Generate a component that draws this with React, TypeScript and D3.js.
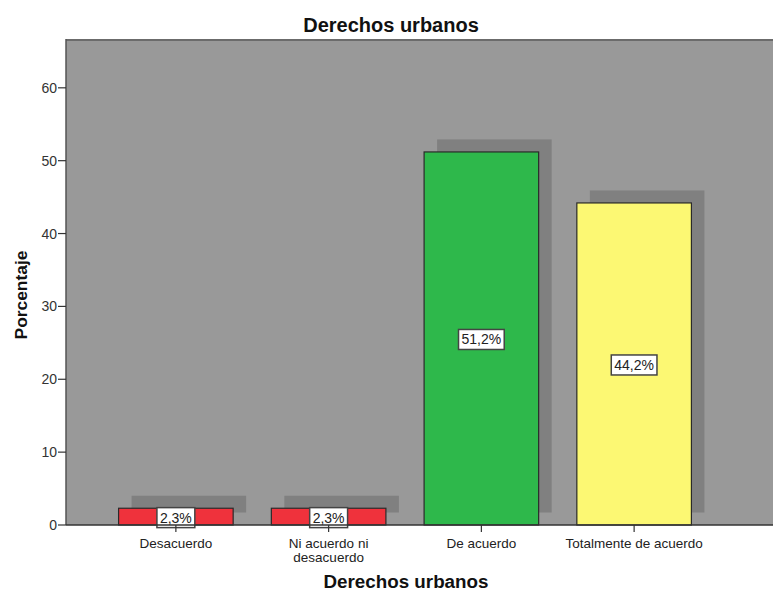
import React from "react";
import * as d3 from "d3";

const categories = ["Desacuerdo", "Ni acuerdo ni desacuerdo", "De acuerdo", "Totalmente de acuerdo"];
const categoryLines = [["Desacuerdo"], ["Ni acuerdo ni", "desacuerdo"], ["De acuerdo"], ["Totalmente de acuerdo"]];
const percentages = [2.3, 2.3, 51.2, 44.2];
const valueLabels = ["2,3%", "2,3%", "51,2%", "44,2%"];
const barColors = ["#ef323c", "#ef323c", "#2eb84b", "#fcf873"];
const yTicks = [0, 10, 20, 30, 40, 50, 60];

const W = 773;
const H = 591;
const plot = { left: 66, right: 773, top: 39, bottom: 525 };

function textWidth(s: string, size: number) {
  const w: Record<string, number> = { ",": 0.278, "%": 0.889 };
  let t = 0;
  for (const c of s) t += w[c] ?? 0.556;
  return t * size;
}

export default function App() {
  const x = d3
    .scaleBand<string>()
    .domain(categories)
    .range([99.5, 710.5])
    .paddingInner(0.25)
    .paddingOuter(0.125);
  const y = d3.scaleLinear().domain([0, 66.7]).range([plot.bottom, plot.top]);
  const bw = x.bandwidth();
  const font = "Liberation Sans, Arial, sans-serif";
  const sdx = 13;
  const sdy = -12.5;

  return (
    <div style={{ position: "fixed", left: 0, top: 0 }}>
      <svg width={W} height={H} style={{ display: "block", background: "#fff" }} fontFamily={font}>
        <text x={391} y={31.5} textAnchor="middle" fontSize={20} fontWeight="bold" fill="#111">
          Derechos urbanos
        </text>
        <rect x={plot.left} y={plot.top} width={plot.right - plot.left} height={plot.bottom - plot.top} fill="#999999" />
        <line x1={plot.left} x2={plot.right} y1={plot.top + 1} y2={plot.top + 1} stroke="#6b6b6b" strokeWidth={2} />
        <line x1={plot.left} x2={plot.left} y1={plot.top} y2={plot.bottom} stroke="#555" strokeWidth={1.5} />
        {/* shadows */}
        {categories.map((c, i) => (
          <rect
            key={"s" + c}
            x={(x(c) as number) + sdx}
            y={y(percentages[i]) + sdy}
            width={bw}
            height={plot.bottom - y(percentages[i])}
            fill="#808080"
          />
        ))}
        {/* bars */}
        {categories.map((c, i) => (
          <rect
            key={"b" + c}
            x={x(c) as number}
            y={y(percentages[i])}
            width={bw}
            height={plot.bottom - y(percentages[i])}
            fill={barColors[i]}
            stroke="#2a2a2a"
            strokeWidth={1.2}
          />
        ))}
        {/* value labels */}
        {categories.map((c, i) => {
          const cx = (x(c) as number) + bw / 2;
          const cy = (y(percentages[i]) + plot.bottom) / 2 + 1;
          const tw = textWidth(valueLabels[i], 14);
          const bwid = tw + 6;
          return (
            <g key={"l" + c}>
              <rect x={cx - bwid / 2} y={cy - 10} width={bwid} height={20} fill="#fff" stroke="#444" strokeWidth={1.5} />
              <text x={cx} y={cy + 5} textAnchor="middle" fontSize={14} fill="#222">
                {valueLabels[i]}
              </text>
            </g>
          );
        })}
        {/* x axis */}
        <line x1={plot.left} x2={plot.right} y1={plot.bottom} y2={plot.bottom} stroke="#333" strokeWidth={1.5} />
        {categories.map((c, i) => {
          const cx = (x(c) as number) + bw / 2;
          return (
            <g key={"t" + c}>
              <line x1={cx} x2={cx} y1={plot.bottom} y2={plot.bottom + 7} stroke="#333" strokeWidth={1.2} />
              {categoryLines[i].map((ln, j) => (
                <text key={j} x={cx} y={547.5 + j * 14} textAnchor="middle" fontSize={13.5} fill="#222">
                  {ln}
                </text>
              ))}
            </g>
          );
        })}
        {/* y axis */}
        {yTicks.map((t) => (
          <g key={"y" + t}>
            <line x1={plot.left - 8} x2={plot.left} y1={y(t)} y2={y(t)} stroke="#333" strokeWidth={1.2} />
            <text x={plot.left - 9} y={y(t) + 5} textAnchor="end" fontSize={14} fill="#333">
              {t}
            </text>
          </g>
        ))}
        <text
          transform={`translate(26.5, 295) rotate(-90)`}
          textAnchor="middle"
          fontSize={17.4}
          fontWeight="bold"
          fill="#111"
        >
          Porcentaje
        </text>
        <text x={406} y={588} textAnchor="middle" fontSize={18.8} fontWeight="bold" fill="#111">
          Derechos urbanos
        </text>
      </svg>
    </div>
  );
}
